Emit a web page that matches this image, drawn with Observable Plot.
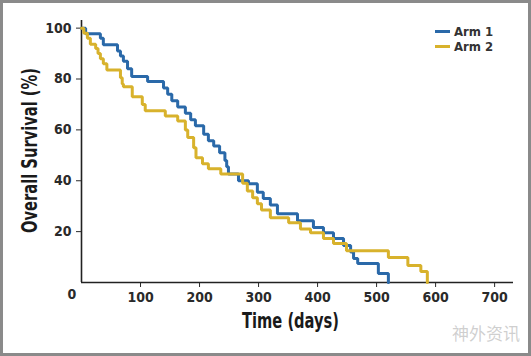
<!DOCTYPE html>
<html>
<head>
<meta charset="utf-8">
<script src="https://cdn.jsdelivr.net/npm/d3@7"></script>
<script src="https://cdn.jsdelivr.net/npm/@observablehq/plot@0.6"></script>
<style>
  html, body { margin: 0; padding: 0; background: #fff; }
  #wrap { position: relative; width: 531px; height: 356px; overflow: hidden; background: #fff; }
  #wrap svg { position: absolute; left: 0; top: 0; }
  #border { position: absolute; left: 0; top: 0; width: 531px; height: 356px; box-sizing: border-box; border: 3px solid #8a8a8a; pointer-events: none; }
  #legend { position: absolute; left: 435px; top: 24px; font-family: "DejaVu Sans Condensed", "DejaVu Sans", sans-serif; font-weight: bold; font-size: 13px; color: #333; line-height: 15px; }
  #legend .row { display: flex; align-items: center; height: 15px; }
  #legend .sw { width: 15px; height: 3px; margin-right: 4px; }
  #wm { position: absolute; left: 452px; top: 320px; font-family: "Noto Sans CJK SC", sans-serif; font-size: 17px; color: rgba(160,160,160,0.5); letter-spacing: 0px; }
</style>
</head>
<body>
<div id="wrap"><div id="border"></div></div>
<script>
// Kaplan–Meier step data
const arm1Days = [0, 7, 32, 37, 61, 66, 71, 78, 85, 112, 139, 146, 153, 163, 176, 185, 193, 207, 215, 224, 234, 243, 246, 249, 266, 283, 298, 308, 320, 332, 366, 393, 410, 427, 444, 456, 461, 468, 503, 520];
const arm1Surv = [100, 97.8, 96, 93.5, 91, 89, 87, 84, 81, 79, 76.5, 74, 71.5, 69, 66.5, 64, 61.6, 58.3, 55.7, 53.7, 51, 48, 45.5, 42.7, 40, 38.8, 35.5, 33, 30.5, 27, 24.3, 21.6, 19.6, 17.3, 14.5, 12, 9.4, 7.5, 3.5, 0];
const arm2Days = [0, 4, 10, 15, 24, 28, 32, 37, 43, 66, 69, 71, 86, 103, 108, 142, 163, 176, 180, 190, 194, 205, 215, 236, 273, 281, 290, 298, 305, 320, 351, 371, 388, 410, 427, 449, 520, 553, 575, 586];
const arm2Surv = [100, 98, 96, 93.7, 92, 90, 88, 86, 83.5, 80.5, 78, 77, 73, 70, 67.5, 65.5, 63.5, 60, 57, 53, 49, 46.7, 44.7, 42.7, 39, 36, 33.3, 31, 28.5, 25.5, 23.5, 21, 19.6, 17.3, 15.3, 12.5, 9.8, 6.7, 4.3, 0];
const seriesNames = ["Arm 1", "Arm 2"];
const seriesColors = ["#2a69a9", "#d8b22c"];
const xTicks = [100, 200, 300, 400, 500, 600, 700];
const yTicks = [20, 40, 60, 80, 100];
const originLabel = ["0"];
const xTitle = "Time (days)";
const yTitle = "Overall Survival (%)";
const watermark = "神外资讯";

const rows = [
  ...arm1Days.map((d, i) => ({series: seriesNames[0], day: d, surv: arm1Surv[i]})),
  ...arm2Days.map((d, i) => ({series: seriesNames[1], day: d, surv: arm2Surv[i]}))
];

const font = '"DejaVu Sans Condensed", "DejaVu Sans", sans-serif';

const chart = Plot.plot({
  width: 531,
  height: 356,
  marginLeft: 81,
  marginRight: 18,
  marginTop: 20,
  marginBottom: 74,
  style: {fontFamily: font, fontSize: "14px", fontWeight: "bold", color: "#2a2a2a", background: "transparent", overflow: "visible"},
  x: {domain: [0, 732], ticks: xTicks, tickSize: 5, tickPadding: 5, label: null, tickFormat: d => String(d)},
  y: {domain: [0, 103], ticks: yTicks, tickSize: 5, tickPadding: 5, label: null, tickFormat: d => String(d)},
  color: {domain: seriesNames, range: seriesColors},
  marks: [
    Plot.ruleY([0], {stroke: "#222", strokeWidth: 1.6}),
    Plot.ruleX([0], {stroke: "#222", strokeWidth: 1.6}),
    Plot.line(rows, {x: "day", y: "surv", z: "series", stroke: "series", strokeWidth: 3, curve: "step-after", strokeLinejoin: "miter"}),
    Plot.text(originLabel, {frameAnchor: "bottom-left", dx: -14, dy: 16, text: d => d, fontSize: 14, fontWeight: "bold", fill: "#2a2a2a"}),
    Plot.text([xTitle], {frameAnchor: "bottom", dx: -7, dy: 45, text: d => d, fontSize: 21, fontWeight: "bold", fill: "#1a1a1a"}),
    Plot.text([yTitle], {frameAnchor: "left", textAnchor: "middle", dx: -51, dy: -1, rotate: -90, text: d => d, fontSize: 21, fontWeight: "bold", fill: "#1a1a1a"})
  ]
});
const wrap = document.getElementById("wrap");
wrap.insertBefore(chart, wrap.firstChild);

// fit the condensed titles to the reference's narrow lettering
d3.select(chart).selectAll("text").each(function () {
  const t = this.textContent;
  if (t === xTitle) { this.setAttribute("textLength", 97); this.setAttribute("lengthAdjust", "spacingAndGlyphs"); }
  if (t === yTitle) { this.setAttribute("textLength", 165); this.setAttribute("lengthAdjust", "spacingAndGlyphs"); }
});

const legend = document.createElement("div");
legend.id = "legend";
seriesNames.forEach((name, i) => {
  const row = document.createElement("div");
  row.className = "row";
  const sw = document.createElement("div");
  sw.className = "sw";
  sw.style.background = seriesColors[i];
  const label = document.createElement("span");
  label.textContent = name;
  row.appendChild(sw);
  row.appendChild(label);
  legend.appendChild(row);
});
wrap.appendChild(legend);

const wm = document.createElement("div");
wm.id = "wm";
wm.textContent = watermark;
wrap.appendChild(wm);
</script>
</body>
</html>
